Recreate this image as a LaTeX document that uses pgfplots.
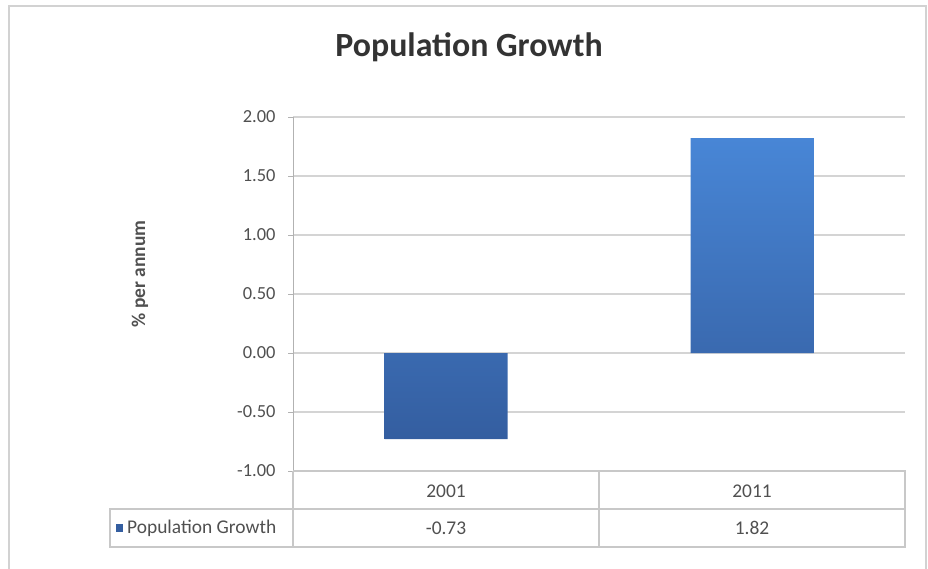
\documentclass[border=0pt]{standalone}
\usepackage{fontspec}
\setmainfont{Carlito}
\usepackage{pgfplots}
\pgfplotsset{compat=1.18}
\definecolor{gridc}{RGB}{212,212,212}
\definecolor{tablec}{RGB}{200,200,200}
\definecolor{bartop}{RGB}{72,134,214}
\definecolor{barbot}{RGB}{52,94,160}
\definecolor{txt}{RGB}{80,80,80}
\begin{document}
\begin{tikzpicture}[x=1bp,y=1bp]
\path[use as bounding box] (0,0) rectangle (928,-569);
% outer chart border
\draw[gray!35, line width=2bp] (9,-569) -- (9,-6) -- (926,-6) -- (926,-569);
% title
\node[font=\bfseries\fontsize{34}{40}\selectfont, text=black!80] at (469,-47) {Population Growth};
% y label
\node[rotate=90, font=\bfseries\fontsize{19.5}{22}\selectfont, text=txt] at (140,-274) {\% per annum};
\begin{axis}[
  at={(293bp,-471bp)}, anchor=south west,
  width=612bp, height=354bp, scale only axis,
  xmin=-0.5, xmax=1.5, ymin=-1, ymax=2,
  axis x line=none,
  axis y line*=left,
  y axis line style={draw=gray!60, line width=1bp},
  ytick={-1,-0.5,0,0.5,1,1.5,2},
  ymajorgrids,
  grid style={draw=gridc, line width=1.3bp},
  major tick length=5bp,
  tick align=outside,
  ytick style={draw=gray!60, line width=1bp},
  yticklabel style={font=\fontsize{18.5}{21}\selectfont, text=txt, xshift=-9bp, /pgf/number format/fixed, /pgf/number format/fixed zerofill, /pgf/number format/precision=2, /pgf/number format/assume math mode=true},
  clip=false,
]
\addplot[ybar, bar width=123bp, draw=none, top color=bartop, bottom color=barbot] coordinates {(0,-0.73) (1,1.82)};
\end{axis}
% data table
\draw[tablec, line width=1.3bp] (293,-471) -- (905,-471) -- (905,-547) -- (110,-547) -- (110,-509) -- (905,-509);
\draw[tablec, line width=1.3bp] (293,-471) -- (293,-547);
\draw[tablec, line width=1.3bp] (599,-471) -- (599,-547);
\node[font=\fontsize{19.5}{22}\selectfont, text=txt] at (446,-491) {2001};
\node[font=\fontsize{19.5}{22}\selectfont, text=txt] at (752,-491) {2011};
\node[font=\fontsize{19.5}{22}\selectfont, text=txt] at (446,-528) {-0.73};
\node[font=\fontsize{19.5}{22}\selectfont, text=txt] at (752,-528) {1.82};
\fill[barbot] (116,-524) rectangle (123,-532);
\node[anchor=west, font=\fontsize{19.5}{22}\selectfont, text=txt, inner sep=0pt] at (127,-528) {Population Growth};
\end{tikzpicture}
\end{document}
